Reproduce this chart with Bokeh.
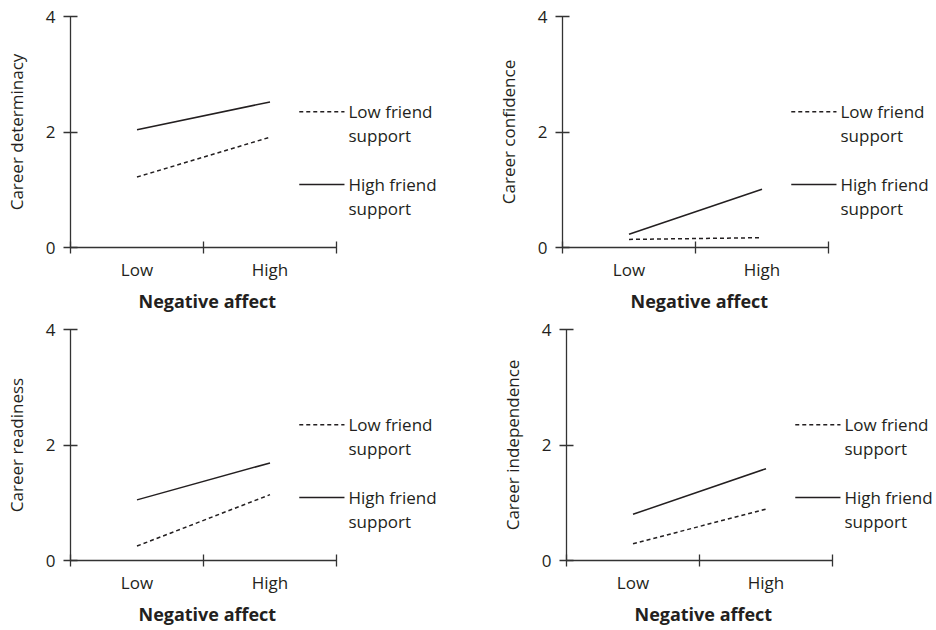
from bokeh.plotting import figure
from bokeh.layouts import column, row
from bokeh.models import Range1d, FixedTicker, Title
from bokeh.core.properties import value
from bokeh.embed import file_html
from bokeh.resources import INLINE

# ---------------- data ----------------
x_levels = ["Low", "High"]
x_pos = [0.5, 1.5]            # category centres on the Negative affect axis
x_bounds = [0, 1, 2]          # tick marks between categories
y_ticks = [0, 2, 4]
legend_labels = ["Low friend\nsupport", "High friend\nsupport"]
x_title = "Negative affect"

determinacy_low = [1.22, 1.91]
determinacy_high = [2.04, 2.52]
confidence_low = [0.14, 0.17]
confidence_high = [0.23, 1.01]
readiness_low = [0.25, 1.14]
readiness_high = [1.05, 1.69]
independence_low = [0.29, 0.89]
independence_high = [0.80, 1.59]

# ---------------- layout / style ----------------
FONT = "Open Sans"
INK = "#231f20"
AXIS = "#333333"
PX_PER_UNIT = 133.0  # horizontal scale
LEG_Y_LOW, LEG_Y_HIGH = 2.35, 1.09
LEG_X0, LEG_X1, LEG_TX = 1.72, 2.06, 2.09


def panel(ylabel, low_vals, high_vals, fig_w, b_left, b_top, b_bottom):
    fw = fig_w - b_left
    x_end = fw / PX_PER_UNIT
    p = figure(frame_width=fw, frame_height=231,
               x_range=Range1d(0, x_end), y_range=Range1d(0, 4),
               output_backend="svg", toolbar_location=None,
               min_border_left=b_left, min_border_right=0,
               min_border_top=b_top, min_border_bottom=b_bottom)
    p.outline_line_color = None
    p.xgrid.grid_line_color = None
    p.ygrid.grid_line_color = None
    p.background_fill_color = "white"

    ax = p.xaxis[0]
    ax.ticker = FixedTicker(ticks=x_pos, minor_ticks=x_bounds)
    ax.major_label_overrides = {x: lab for x, lab in zip(x_pos, x_levels)}
    ax.bounds = (0, 2)
    ax.axis_line_color = AXIS
    ax.axis_line_width = 1.3
    ax.major_tick_line_color = None
    ax.major_tick_in = 0
    ax.major_tick_out = 6
    ax.minor_tick_line_color = AXIS
    ax.minor_tick_line_width = 1.3
    ax.minor_tick_in = 6
    ax.minor_tick_out = 6
    ax.major_label_standoff = 4
    ax.major_label_text_font = FONT
    ax.major_label_text_font_size = "17px"
    ax.major_label_text_color = INK

    # axis title centred under the axis line (0..2), not the whole frame
    t = Title(text=x_title, align="left", offset=68, standoff=6,
              text_font=FONT, text_font_size="18px", text_font_style="bold",
              text_color=INK)
    p.add_layout(t, "below")

    ay = p.yaxis[0]
    ay.ticker = FixedTicker(ticks=y_ticks)
    ay.axis_line_color = AXIS
    ay.axis_line_width = 1.3
    ay.major_tick_line_color = AXIS
    ay.major_tick_line_width = 1.3
    ay.major_tick_in = 7
    ay.major_tick_out = 7
    ay.minor_tick_line_color = None
    ay.major_label_standoff = 8
    ay.major_label_text_font = FONT
    ay.major_label_text_font_size = "17px"
    ay.major_label_text_color = INK
    ay.axis_label = ylabel
    ay.axis_label_text_font = FONT
    ay.axis_label_text_font_size = "17px"
    ay.axis_label_text_font_style = "normal"
    ay.axis_label_text_color = INK
    ay.axis_label_standoff = 15

    p.line(x_pos, low_vals, line_color=INK, line_width=1.5, line_dash="4 3")
    p.line(x_pos, high_vals, line_color=INK, line_width=1.5)

    # legend keys
    p.line([LEG_X0, LEG_X1], [LEG_Y_LOW, LEG_Y_LOW], line_color=INK,
           line_width=1.5, line_dash="4 3")
    p.line([LEG_X0, LEG_X1], [LEG_Y_HIGH, LEG_Y_HIGH], line_color=INK,
           line_width=1.5)
    p.text(x=[LEG_TX, LEG_TX], y=[LEG_Y_LOW, LEG_Y_HIGH], text=legend_labels,
           text_font=value(FONT), text_font_size="17px", text_color=INK,
           text_align="left", text_baseline="middle", y_offset=12,
           text_line_height=1.05)
    return p


p1 = panel("Career determinacy", determinacy_low, determinacy_high, 460, 70, 16, 68)
p2 = panel("Career confidence", confidence_low, confidence_high, 474, 102, 16, 68)
p3 = panel("Career readiness", readiness_low, readiness_high, 460, 70, 14, 66)
p4 = panel("Career independence", independence_low, independence_high, 474, 106, 14, 66)

layout = column(row(p1, p2), row(p3, p4))

with open("out.html", "w") as f:
    f.write(file_html(layout, INLINE))
